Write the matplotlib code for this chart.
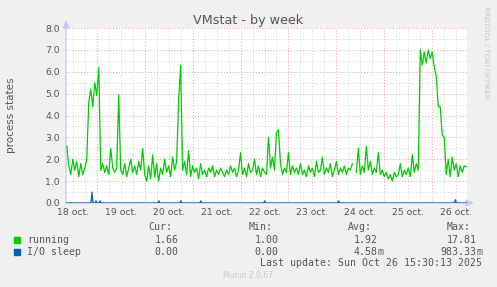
import matplotlib.pyplot as plt
import numpy as np

# hours since 18 oct. 00:00, one sample per hour starting at 09:00
start_hour = 9
running = [
    2.6, 1.7, 1.3, 2.0, 1.5, 1.9, 1.2, 1.8, 1.3, 1.6,
    2.0, 4.6, 5.2, 4.4, 5.5, 4.9, 6.2, 1.5, 1.8, 1.4,
    1.7, 1.3, 2.5, 1.6, 1.4, 1.6, 4.95, 1.5, 1.3, 1.8,
    1.2, 1.6, 2.0, 1.4, 1.7, 1.3, 1.9, 1.5, 2.5, 1.3,
    1.0, 1.7, 1.1, 2.2, 1.2, 1.8, 1.0, 1.6, 1.3, 2.0,
    1.4, 1.7, 1.2, 2.1, 1.5, 1.9, 4.7, 6.3, 1.5, 1.9,
    1.3, 2.4, 1.2, 1.7, 1.4, 1.6, 1.1, 1.8, 1.3, 1.5,
    1.2, 1.6, 1.4, 1.7, 1.2, 1.5, 1.3, 1.6, 1.4, 1.2,
    1.5, 1.3, 1.7, 1.4, 1.6, 1.2, 1.5, 2.3, 1.3, 1.6,
    1.2, 1.8, 1.4, 1.5, 2.0, 1.3, 1.7, 1.2, 1.6, 1.4,
    1.3, 3.0, 1.6, 2.1, 1.5, 3.2, 3.35, 1.8, 1.3, 1.6,
    1.4, 2.3, 1.3, 1.7, 1.4, 1.6, 1.3, 1.8, 1.3, 1.5,
    1.2, 1.7, 1.4, 1.6, 1.2, 1.9, 1.4, 1.5, 2.1, 1.3,
    1.6, 1.4, 1.8, 1.2, 1.5, 1.9, 1.3, 1.6, 1.4, 1.7,
    1.3, 1.6, 1.5, 1.8, np.nan, 1.4, 2.5, 1.3, 1.7, 1.4,
    2.6, 1.5, 1.9, 1.3, 1.6, 1.4, 2.3, 1.3, 1.5, 1.2,
    1.4, 1.1, 1.3, 1.0, 1.4, 1.2, 1.3, 1.8, 1.2, 1.5,
    1.3, 1.6, 1.2, 2.2, 1.4, 1.8, 1.5, 7.0, 6.3, 6.9,
    6.4, 7.0, 6.6, 6.9, 6.2, 5.8, 4.4, 4.4, 3.1, 3.0,
    1.3, 2.0, 1.2, 2.1, 1.5, 1.8, 1.2, 1.7, 1.4, 1.7,
    1.66,
]
io_spike_hours = [21.5, 23.5, 25.5, 55.0, 66.0, 76.0, 108.0, 145.0, 203.5]
io_spike_vals = [0.5, 0.1, 0.1, 0.1, 0.1, 0.1, 0.1, 0.1, 0.15]

day_labels = ['18 oct.', '19 oct.', '20 oct.', '21 oct.', '22 oct.',
              '23 oct.', '24 oct.', '25 oct.', '26 oct.']
series_names = ['running', 'I/O sleep']
series_colors = ['#00cc00', '#0066b3']
stat_heads = ['Cur:', 'Min:', 'Avg:', 'Max:']
stat_vals = [['1.66', '1.00', '1.92', '17.81'],
             ['0.00', '0.00', '4.58m', '983.33m']]

x_min, x_max = 8.6, 209.4
W, H = 497, 287
txt = '#555555'

fig = plt.figure(figsize=(W / 100, H / 100), dpi=100, facecolor='#f0f0f0')
ax = fig.add_axes([66 / W, 1 - 203 / H, 401 / W, 175 / H])
ax.set_facecolor('white')

hours = start_hour + np.arange(len(running))
io_t = np.arange(x_min, x_max + 0.25, 0.5)
io = np.zeros(len(io_t))
for h, v in zip(io_spike_hours, io_spike_vals):
    io[np.argmin(np.abs(io_t - h))] = v

# grid
for h in np.arange(0, 216, 6):
    if h % 24:
        ax.axvline(h, color='#d0d0d0', lw=0.7, ls=(0, (1, 2)), zorder=1)
for y in np.arange(0.5, 8, 1.0):
    ax.axhline(y, color='#d0d0d0', lw=0.7, ls=(0, (1, 2)), zorder=1)
for h in np.arange(24, 216, 24):
    ax.axvline(h, color='#eca0a0', lw=0.7, ls=(0, (1, 2)), zorder=2)
for y in range(1, 9):
    ax.axhline(y, color='#eca0a0', lw=0.7, ls=(0, (1, 2)), zorder=2)

ax.plot(hours, running, color=series_colors[0], lw=0.9, zorder=4)
ax.plot(io_t, io, color=series_colors[1], lw=0.9, zorder=5)

ax.set_xlim(x_min, x_max)
ax.set_ylim(0, 8)
ax.set_yticks(range(9))
ax.set_yticklabels(['%.1f' % v for v in range(9)])
ax.set_xticks([12 + 24 * i for i in range(len(day_labels))])
ax.set_xticklabels(day_labels)
ax.tick_params(length=0, labelsize=6.7, colors=txt)
ax.tick_params(axis='y', pad=4.3)
ax.tick_params(axis='x', pad=3.5)
for s in ax.spines.values():
    s.set_visible(False)

# axis arrows
ax.annotate('', xy=(0, 1.045), xytext=(0, 0), xycoords='axes fraction',
            arrowprops=dict(arrowstyle='-|>,head_length=0.45,head_width=0.2',
                            color='#c4c8f0', lw=0.9, shrinkA=0, shrinkB=0), zorder=3)
ax.annotate('', xy=(1.017, 0), xytext=(0, 0), xycoords='axes fraction',
            arrowprops=dict(arrowstyle='-|>,head_length=0.45,head_width=0.2',
                            color='#c4c8f0', lw=0.9, shrinkA=0, shrinkB=0), zorder=3)

def px(x, y):
    return x / W, 1 - y / H

fig.text(*px(248, 24), 'VMstat - by week', ha='center', va='baseline',
         fontsize=9.2, color=txt)
fig.text(*px(11, 115.5), 'process states', rotation=90, ha='center',
         va='center', fontsize=7.5, color=txt)
fig.text(*px(486, 52), 'RRDTOOL / TOBI OETIKER', rotation=270, ha='center',
         va='center', fontsize=5.2, color='#c4c4c4')

mono = dict(family='DejaVu Sans Mono', fontsize=7.1, color=txt, va='center')
num_right = [178.3, 278.3, 377.7, 476.7]
for head, xr in zip(stat_heads, num_right):
    fig.text(*px(xr - 6, 227.5), head, ha='right', **mono)
for row, (name, col, vals) in enumerate(zip(series_names, series_colors, stat_vals)):
    yc = 240 + 12 * row
    fig.patches.append(plt.Rectangle(px(14, yc + 3), 6 / W, 6 / H,
                                     transform=fig.transFigure, color=col))
    fig.text(*px(27, yc), name, ha='left', **mono)
    for v, xr in zip(vals, num_right):
        if v.endswith('m'):
            fig.text(*px(xr, yc), 'm', ha='left', **mono)
            v = v[:-1]
        fig.text(*px(xr, yc), v, ha='right', **mono)
fig.text(*px(482.5, 263.5), 'Last update: Sun Oct 26 15:30:13 2025',
         ha='right', **mono)
fig.text(*px(248, 276), 'Munin 2.0.67', ha='center', va='center',
         fontsize=5.5, color='#c8c8c8')

fig.savefig('out.png', dpi=100, facecolor=fig.get_facecolor())
